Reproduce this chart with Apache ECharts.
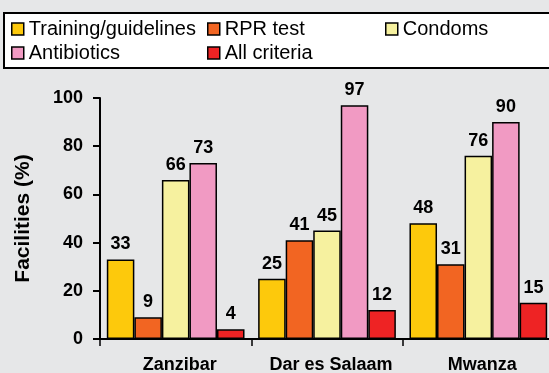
<!DOCTYPE html>
<html>
<head>
<meta charset="utf-8">
<script src="https://cdn.jsdelivr.net/npm/echarts@6/dist/echarts.min.js"></script>
<style>
  html, body { margin: 0; padding: 0; background: #e6e7e8; }
  #chart { width: 549px; height: 373px; }
</style>
</head>
<body>
<div id="chart"></div>
<script>
// Facilities meeting each syphilis-care criterion, by region
const regions = ['Zanzibar', 'Dar es Salaam', 'Mwanza'];
const seriesNames = ['Training/guidelines', 'RPR test', 'Condoms', 'Antibiotics', 'All criteria'];
const training = [33, 25, 48];
const rprTest = [9, 41, 31];
const condoms = [66, 45, 76];
const antibiotics = [73, 97, 90];
const allCriteria = [4, 12, 15];
const yTicks = [0, 20, 40, 60, 80, 100];

const colors = ['#fdc90c', '#f26522', '#f6f19f', '#f19ac3', '#ee2324'];
const values = [training, rprTest, condoms, antibiotics, allCriteria];
const FONT = 'Liberation Sans, Arial, Helvetica, sans-serif';

const chart = echarts.init(document.getElementById('chart'), null, { renderer: 'canvas' });

// one legend block per entry so the entries sit in fixed columns
const legendSlots = [
  { left: 11, top: 18 },
  { left: 207, top: 18 },
  { left: 385, top: 18 },
  { left: 11, top: 42 },
  { left: 207, top: 42 }
];

const option = {
  backgroundColor: '#e6e7e8',
  animation: false,
  color: colors,
  graphic: [{
    type: 'rect',
    shape: { x: 4, y: 13, width: 560, height: 55 },
    style: { fill: '#ffffff', stroke: '#000000', lineWidth: 2 },
    z: -1
  }],
  legend: seriesNames.map((name, i) => ({
    data: [name],
    left: legendSlots[i].left,
    top: legendSlots[i].top,
    padding: 0,
    icon: 'rect',
    itemWidth: 12,
    itemHeight: 12,
    itemStyle: { borderColor: '#000', borderWidth: 1.5 },
    selectedMode: false,
    textStyle: { fontFamily: FONT, fontSize: 20, lineHeight: 22, color: '#000' }
  })),
  grid: { left: 100, top: 98, height: 241, width: 454, outerBoundsMode: 'none', containLabel: false },
  xAxis: {
    type: 'category',
    data: regions,
    axisLine: { lineStyle: { color: '#000', width: 2 } },
    axisTick: { show: true, length: 7, lineStyle: { color: '#000', width: 1.5 } },
    axisLabel: {
      interval: 0,
      padding: [0, 0, 0, 8],
      color: '#000', fontFamily: FONT, fontWeight: 'bold', fontSize: 18, margin: 17
    }
  },
  yAxis: {
    type: 'value',
    min: yTicks[0],
    max: yTicks[yTicks.length - 1],
    interval: yTicks[1] - yTicks[0],
    name: 'Facilities (%)',
    nameLocation: 'middle',
    nameGap: 66,
    nameTextStyle: { color: '#000', fontFamily: FONT, fontWeight: 'bold', fontSize: 21 },
    splitLine: { show: false },
    axisLine: { show: true, lineStyle: { color: '#000', width: 2 } },
    axisTick: { show: true, length: 7, lineStyle: { color: '#000', width: 2 } },
    axisLabel: {
      color: '#000', fontFamily: FONT, fontWeight: 'bold', fontSize: 18, margin: 17
    }
  },
  series: seriesNames.map((name, i) => ({
    name: name,
    type: 'bar',
    data: values[i],
    barGap: '0%',
    barCategoryGap: '9%',
    itemStyle: { color: colors[i], borderColor: '#000', borderWidth: 1.5 },
    label: {
      show: true,
      position: 'top',
      distance: 6,
      color: '#000',
      fontFamily: FONT,
      fontWeight: 'bold',
      fontSize: 18
    }
  }))
};

chart.setOption(option);
</script>
</body>
</html>
